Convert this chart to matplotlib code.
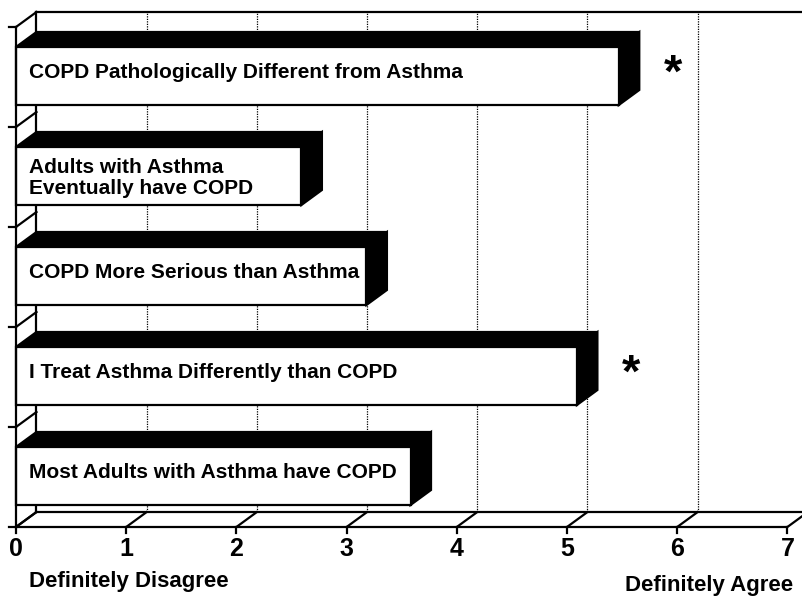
import matplotlib
matplotlib.use("Agg")
import matplotlib.pyplot as plt
from matplotlib.patches import Polygon

# donnees (echelle 0-7)
labels = ["COPD Pathologically Different from Asthma",
          "Adults with Asthma\nEventually have COPD",
          "COPD More Serious than Asthma",
          "I Treat Asthma Differently than COPD",
          "Most Adults with Asthma have COPD"]
scores = [5.47, 2.59, 3.18, 5.09, 3.58]
significant = [True, False, False, True, False]
ticks = [0, 1, 2, 3, 4, 5, 6, 7]
left_text = "Definitely Disagree"
right_text = "Definitely Agree"

plt.rcParams['font.family'] = ['Liberation Sans', 'DejaVu Sans']
plt.rcParams['font.weight'] = 'bold'

# profondeur de l'effet 3D (en unites de donnees)
dx = 0.186
dy = 0.15
bar_bot = 0.22
bar_h = 0.58
n = len(labels)

fig = plt.figure(figsize=(8.02, 5.99), dpi=100)
ax = fig.add_axes([0, 0, 1, 1])
ax.set_xlim(-16 / 110.2, (802 - 16) / 110.2)
ax.set_ylim(-0.72, 5.27)
ax.axis('off')

lw = 1.6
# mur du fond + sol + mur gauche
ax.plot([dx, 7.3], [n + dy, n + dy], color='black', lw=lw, zorder=1)
ax.plot([dx, dx], [dy, n + dy], color='black', lw=lw, zorder=1)
ax.plot([dx, 7 + dx], [dy, dy], color='black', lw=lw, zorder=1)
ax.plot([0, 7], [0, 0], color='black', lw=lw, zorder=1)
ax.plot([0, 0], [0, n], color='black', lw=lw, zorder=4)
for t in ticks:
    ax.plot([t, t + dx], [0, dy], color='black', lw=lw, zorder=1)
    ax.plot([t, t], [0, -0.06], color='black', lw=lw, zorder=1)
    ax.text(t, -0.22, str(t), ha='center', va='center', fontsize=18, fontweight='bold')
    if 0 < t < 7:
        ax.plot([t + dx, t + dx], [dy, n + dy], color='black', lw=0.9,
                linestyle=(0, (1, 1)), zorder=0)
for k in range(n + 1):
    ax.plot([0, dx], [k, k + dy], color='black', lw=lw, zorder=1)
    ax.plot([-0.06, 0], [k, k], color='black', lw=lw, zorder=1)

# barres
for i, (lab, v, sig) in enumerate(zip(labels, scores, significant)):
    y0 = n - 1 - i + bar_bot
    y1 = y0 + bar_h
    top = Polygon([(0, y1), (v, y1), (v + dx, y1 + dy), (dx, y1 + dy)],
                  closed=True, fc='black', ec='black', lw=lw, zorder=2)
    side = Polygon([(v, y0), (v, y1), (v + dx, y1 + dy), (v + dx, y0 + dy)],
                   closed=True, fc='black', ec='black', lw=lw, zorder=2)
    front = Polygon([(0, y0), (v, y0), (v, y1), (0, y1)],
                    closed=True, fc='white', ec='black', lw=lw, zorder=3)
    ax.add_patch(top)
    ax.add_patch(side)
    ax.add_patch(front)
    shift = -0.02 if '\n' in lab else 0.03
    ax.text(0.118, (y0 + y1) / 2 + shift, lab, ha='left', va='center', fontsize=15,
            fontweight='bold', linespacing=1.1, zorder=5)
    if sig:
        ax.text(v + 0.49, y1 - 0.28, '*', ha='center', va='center', fontsize=34,
                fontweight='bold', zorder=5)

ax.text(0.12, -0.6, left_text, ha='left', va='baseline', fontsize=16, fontweight='bold')
ax.text(7.05, -0.64, right_text, ha='right', va='baseline', fontsize=16, fontweight='bold')

fig.savefig('out.png', dpi=100)
